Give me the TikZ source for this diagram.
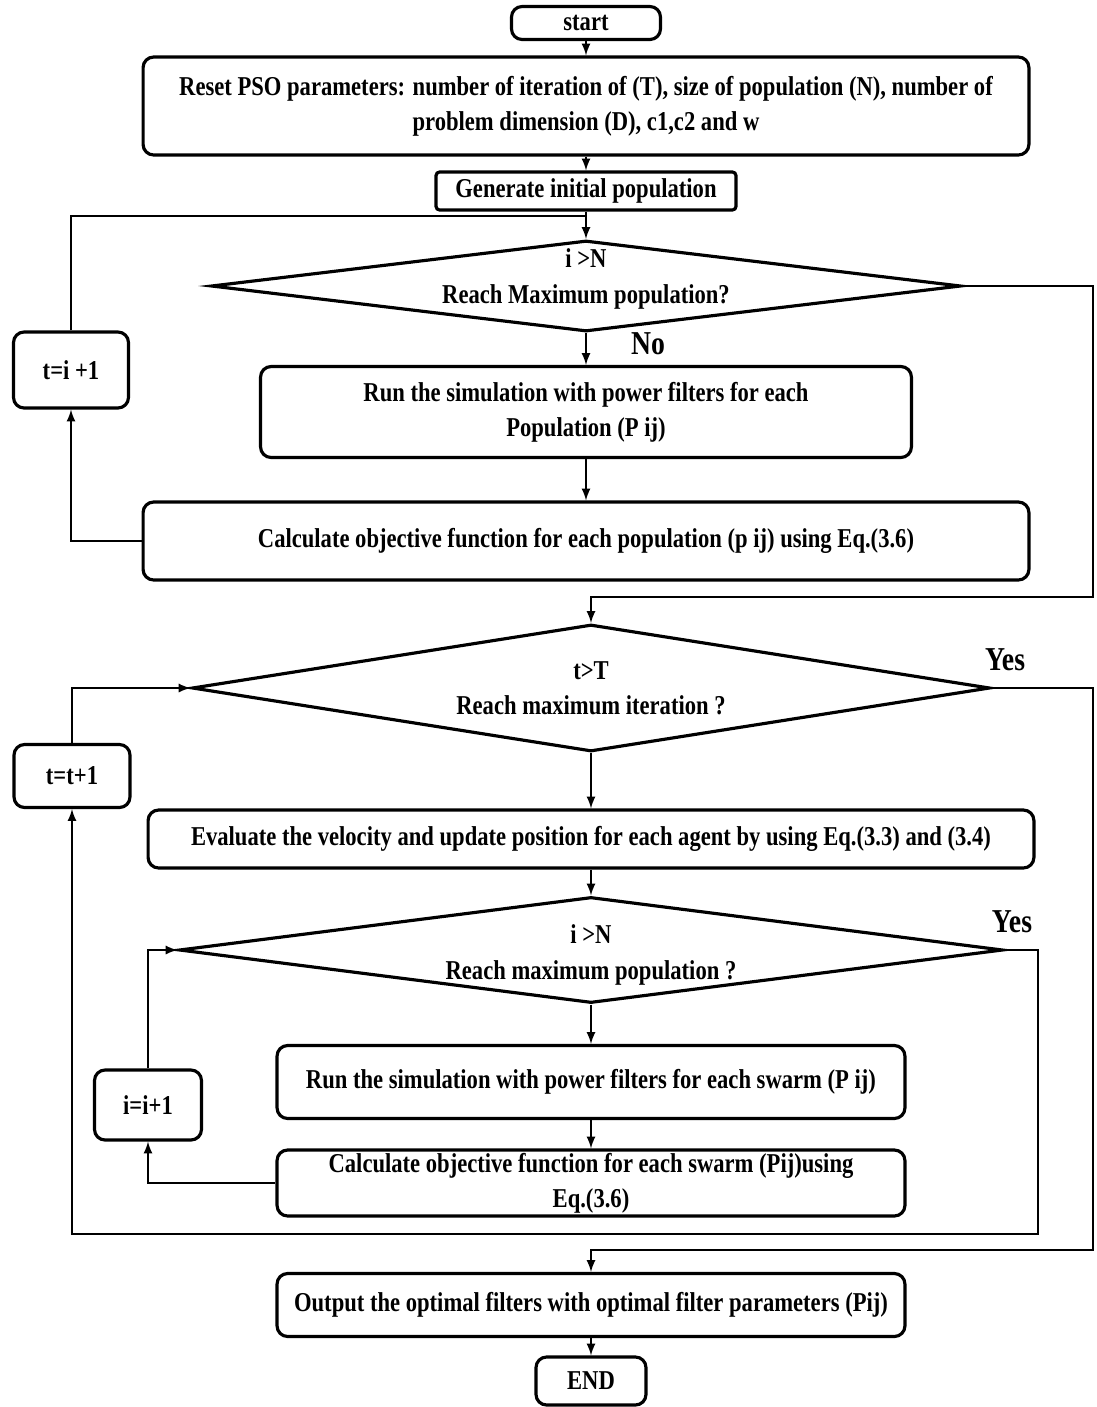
\documentclass[tikz,border=0pt]{standalone}
\usepackage{fontspec}
\setmainfont[FakeStretch=0.83]{Liberation Serif}
\usepackage{tikz}
\usetikzlibrary{shapes.geometric}
\tikzstyle{every node}=[font=\fontsize{15.5}{20}\selectfont\bfseries,align=center,inner sep=0pt]
\tikzstyle{every label}=[align=center]
\tikzstyle{block}=[draw=black,line width=1.8pt,rounded corners=6pt]
\tikzstyle{decision}=[draw=black,line width=1.8pt,diamond,aspect=8]
\tikzstyle{line}=[draw=black,line width=1.3pt]
\tikzstyle{arr}=[line,-latex]
\tikzstyle{answer}=[font=\fontsize{19}{22}\selectfont\bfseries]

\begin{document}
\begin{tikzpicture}[x=0.02cm,y=-0.02cm]
  \useasboundingbox (0,0) rectangle (1096,1407);
  % first stage: initial population
  \node [block,minimum width=2.98cm,minimum height=0.66cm] (start) at (586,23) {start};
  \node [block,minimum width=17.72cm,minimum height=1.96cm] (reset) at (586,106)
    {Reset PSO parameters: number of iteration of (T), size of population (N), number of\\
     problem dimension (D), c1,c2 and w};
  \node [block,rounded corners=2pt,minimum width=6cm,minimum height=0.76cm] (gen) at (586,191)
    {Generate initial population};
  \node [decision,minimum width=15cm,minimum height=1.82cm,
    label={[yshift=0.14cm]center:{i >N\\ Reach Maximum population?}}] (popchk) at (586,286) {};
  \node [block,minimum width=13.02cm,minimum height=1.82cm] (runpop) at (586,412)
    {Run the simulation with power filters for each\\ Population (P ij)};
  \node [block,minimum width=17.72cm,minimum height=1.56cm] (calcpop) at (586,541)
    {Calculate objective function for each population (p ij) using Eq.(3.6)};
  \node [block,minimum width=2.3cm,minimum height=1.52cm] (incpop) at (71,370) {t=i +1};
  \node [answer] (no) at (648,344) {No};
  \coordinate (jpop) at (586,216);
  \coordinate (rpop) at (1093,597);
  \coordinate (jit) at (591,597);

  % second stage: iterations
  \node [decision,minimum width=15.96cm,minimum height=2.54cm,
    label={center:{t>T\\ Reach maximum iteration ?}}] (itchk) at (591,688) {};
  \node [block,minimum width=2.32cm,minimum height=1.26cm] (incit) at (72,776) {t=t+1};
  \node [block,minimum width=17.72cm,minimum height=1.16cm] (eval) at (591,839)
    {Evaluate the velocity and update position for each agent by using Eq.(3.3) and (3.4)};
  \node [decision,minimum width=16.48cm,minimum height=2.12cm,
    label={[yshift=-0.1cm]center:{i >N\\ Reach maximum population ?}}] (swchk) at (591,950) {};
  \node [block,minimum width=12.56cm,minimum height=1.46cm] (runsw) at (591,1082)
    {Run the simulation with power filters for each swarm (P ij)};
  \node [block,minimum width=12.56cm,minimum height=1.32cm] (calcsw) at (591,1183)
    {Calculate objective function for each swarm (Pij)using\\ Eq.(3.6)};
  \node [block,minimum width=2.14cm,minimum height=1.4cm] (incsw) at (148,1105) {i=i+1};
  \node [block,minimum width=12.56cm,minimum height=1.26cm] (out) at (591,1305)
    {Output the optimal filters with optimal filter parameters (Pij)};
  \node [block,minimum width=2.2cm,minimum height=0.96cm] (end) at (591,1381) {END};
  \node [answer] (yesit) at (1005,660) {Yes};
  \node [answer] (yessw) at (1012,922) {Yes};
  \coordinate (rsw) at (1038,1234);
  \coordinate (rit) at (1093,1250);
  \coordinate (jout) at (591,1250);

  % connectors
  \draw [arr] (start) -- (reset);
  \draw [arr] (reset) -- (gen);
  \draw [arr] (gen) -- (popchk);
  \draw [arr] (popchk) -- (runpop);
  \draw [arr] (runpop) -- (calcpop);
  \draw [arr] (calcpop.west) -| (incpop.south);
  \draw [line] (incpop.north) |- (jpop);
  \draw [arr] (popchk.east) -| (rpop) -- (jit) -- (itchk.north);
  \draw [arr] (itchk) -- (eval);
  \draw [arr] (eval) -- (swchk);
  \draw [arr] (swchk) -- (runsw);
  \draw [arr] (runsw) -- (calcsw);
  \draw [arr] (calcsw.west) -| (incsw.south);
  \draw [arr] (incsw.north) |- (swchk.west);
  \draw [arr] (swchk.east) -| (rsw) -| (incit.south);
  \draw [arr] (incit.north) |- (itchk.west);
  \draw [arr] (itchk.east) -| (rit) -- (jout) -- (out.north);
  \draw [arr] (out) -- (end);
\end{tikzpicture}
\end{document}
